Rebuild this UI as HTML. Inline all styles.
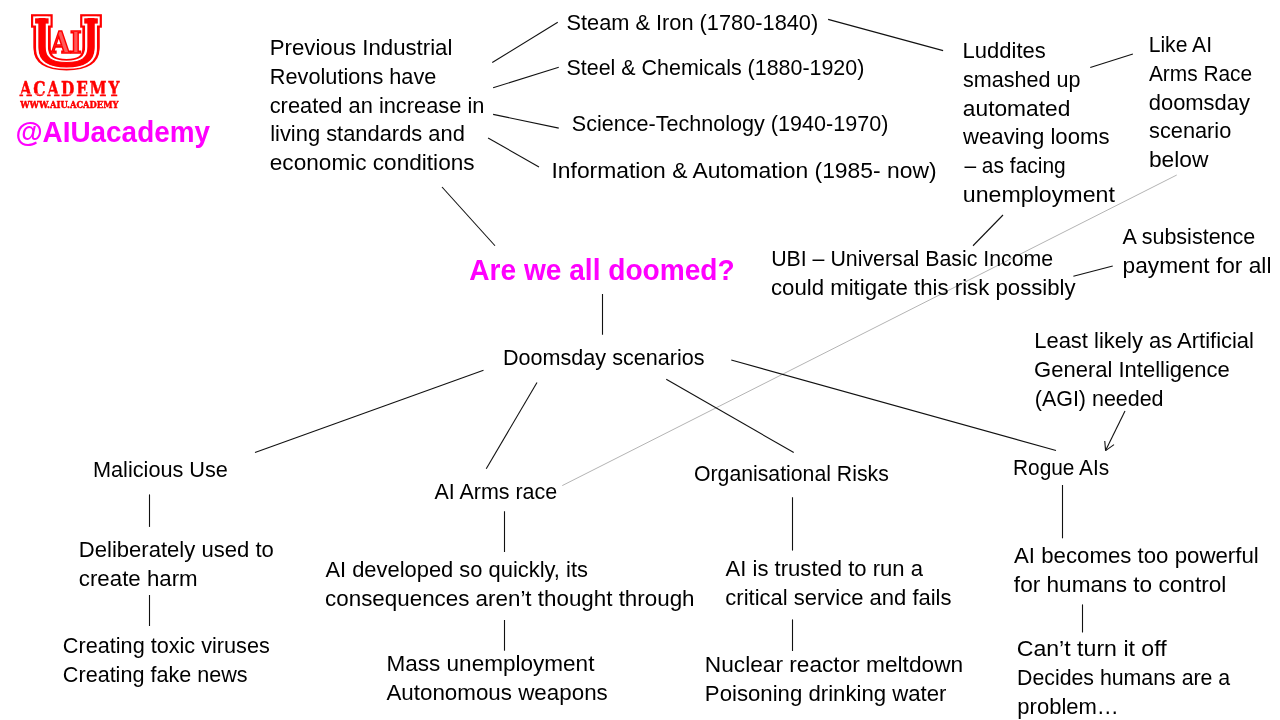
<!DOCTYPE html><html><head><meta charset="utf-8"><title>Are we all doomed?</title>
<style>html,body{margin:0;padding:0;background:#fff;}body{width:1280px;height:720px;overflow:hidden;}svg{display:block;}.t{font-family:"Liberation Sans", sans-serif;font-size:21.5px;fill:#000;}.b{font-family:"Liberation Sans", sans-serif;font-size:28.6px;font-weight:bold;fill:#ff00ff;}.l{stroke:#111;stroke-width:1.1;fill:none;}.g{stroke:#b4b4b4;stroke-width:1;fill:none;}</style></head><body>
<svg width="1280" height="720" viewBox="0 0 1280 720">
<rect width="1280" height="720" fill="#fff"/>
<line class="g" x1="1176.75" y1="175" x2="562.25" y2="485.6"/>
<line class="l" x1="492.25" y1="62.5" x2="557.75" y2="22.25"/>
<line class="l" x1="493.1" y1="87.75" x2="558.75" y2="67.25"/>
<line class="l" x1="493.1" y1="114.4" x2="558.75" y2="128.1"/>
<line class="l" x1="488.1" y1="138.1" x2="539" y2="166.9"/>
<line class="l" x1="828.1" y1="19.4" x2="943.1" y2="50.6"/>
<line class="l" x1="1090.25" y1="67.5" x2="1132.9" y2="54.1"/>
<line class="l" x1="442" y1="187" x2="495" y2="245.75"/>
<line class="l" x1="602.5" y1="294" x2="602.5" y2="334.75"/>
<line class="l" x1="973" y1="245.75" x2="1003" y2="215"/>
<line class="l" x1="1073.4" y1="276.25" x2="1112.75" y2="266"/>
<line class="l" x1="483.5" y1="370.25" x2="255" y2="452.5"/>
<line class="l" x1="537" y1="382.5" x2="486.25" y2="468.75"/>
<line class="l" x1="666.25" y1="379.25" x2="793.75" y2="452.5"/>
<line class="l" x1="731.25" y1="360" x2="1056" y2="450.5"/>
<line class="l" x1="149.5" y1="494.4" x2="149.5" y2="526.9"/>
<line class="l" x1="149.5" y1="595" x2="149.5" y2="626"/>
<line class="l" x1="504.5" y1="511.25" x2="504.5" y2="552"/>
<line class="l" x1="504.5" y1="620" x2="504.5" y2="650.7"/>
<line class="l" x1="792.5" y1="497.25" x2="792.5" y2="550.6"/>
<line class="l" x1="792.5" y1="619.4" x2="792.5" y2="651"/>
<line class="l" x1="1062.5" y1="485" x2="1062.5" y2="538.3"/>
<line class="l" x1="1082.5" y1="604.4" x2="1082.5" y2="632.5"/>
<line class="l" x1="1125" y1="411" x2="1105.6" y2="450.6"/>
<line class="l" x1="1105.6" y1="450.6" x2="1104.75" y2="441"/>
<line class="l" x1="1105.6" y1="450.6" x2="1114" y2="444.6"/>
<defs><filter id="aa" x="0" y="0" width="100%" height="100%" filterUnits="userSpaceOnUse" color-interpolation-filters="sRGB"><feOffset dx="0" dy="0"/></filter></defs>
<g filter="url(#aa)">
<text class="t" x="269.79" y="55" textLength="182.61" lengthAdjust="spacingAndGlyphs">Previous Industrial</text>
<text class="t" x="269.83" y="84" textLength="166.52" lengthAdjust="spacingAndGlyphs">Revolutions have</text>
<text class="t" x="269.71" y="113" textLength="214.71" lengthAdjust="spacingAndGlyphs">created an increase in</text>
<text class="t" x="270.2" y="141" textLength="194.68" lengthAdjust="spacingAndGlyphs">living standards and</text>
<text class="t" x="269.8" y="170" textLength="204.79" lengthAdjust="spacingAndGlyphs">economic conditions</text>
<text class="t" x="566.49" y="30" textLength="251.76" lengthAdjust="spacingAndGlyphs">Steam &amp; Iron (1780-1840)</text>
<text class="t" x="566.5" y="75" textLength="297.85" lengthAdjust="spacingAndGlyphs">Steel &amp; Chemicals (1880-1920)</text>
<text class="t" x="571.75" y="131" textLength="316.6" lengthAdjust="spacingAndGlyphs">Science-Technology (1940-1970)</text>
<text class="t" x="551.47" y="178" textLength="385.03" lengthAdjust="spacingAndGlyphs">Information &amp; Automation (1985- now)</text>
<text class="t" x="962.61" y="58" textLength="83.12" lengthAdjust="spacingAndGlyphs">Luddites</text>
<text class="t" x="963.02" y="87" textLength="117.36" lengthAdjust="spacingAndGlyphs">smashed up</text>
<text class="t" x="962.85" y="116" textLength="107.5" lengthAdjust="spacingAndGlyphs">automated</text>
<text class="t" x="963.02" y="144" textLength="146.46" lengthAdjust="spacingAndGlyphs">weaving looms</text>
<text class="t" x="964.4" y="173" textLength="101.32" lengthAdjust="spacingAndGlyphs">– as facing</text>
<text class="t" x="962.79" y="202" textLength="152.11" lengthAdjust="spacingAndGlyphs">unemployment</text>
<text class="t" x="1148.68" y="52" textLength="63.4" lengthAdjust="spacingAndGlyphs">Like AI</text>
<text class="t" x="1148.89" y="81" textLength="103.28" lengthAdjust="spacingAndGlyphs">Arms Race</text>
<text class="t" x="1148.75" y="110" textLength="101.21" lengthAdjust="spacingAndGlyphs">doomsday</text>
<text class="t" x="1149.01" y="138" textLength="82.31" lengthAdjust="spacingAndGlyphs">scenario</text>
<text class="t" x="1148.94" y="167" textLength="59.54" lengthAdjust="spacingAndGlyphs">below</text>
<text class="t" x="771.14" y="266" textLength="282.12" lengthAdjust="spacingAndGlyphs">UBI – Universal Basic Income</text>
<text class="t" x="770.97" y="295" textLength="304.68" lengthAdjust="spacingAndGlyphs">could mitigate this risk possibly</text>
<text class="t" x="1122.5" y="244" textLength="132.82" lengthAdjust="spacingAndGlyphs">A subsistence</text>
<text class="t" x="1122.56" y="273" textLength="148.9" lengthAdjust="spacingAndGlyphs">payment for all</text>
<text class="t" x="1034.21" y="348" textLength="219.78" lengthAdjust="spacingAndGlyphs">Least likely as Artificial</text>
<text class="t" x="1034.09" y="377" textLength="195.74" lengthAdjust="spacingAndGlyphs">General Intelligence</text>
<text class="t" x="1034.75" y="406" textLength="128.81" lengthAdjust="spacingAndGlyphs">(AGI) needed</text>
<text class="t" x="502.99" y="365" textLength="201.51" lengthAdjust="spacingAndGlyphs">Doomsday scenarios</text>
<text class="t" x="92.98" y="477" textLength="134.97" lengthAdjust="spacingAndGlyphs">Malicious Use</text>
<text class="t" x="434.4" y="499" textLength="122.78" lengthAdjust="spacingAndGlyphs">AI Arms race</text>
<text class="t" x="694.01" y="481" textLength="194.77" lengthAdjust="spacingAndGlyphs">Organisational Risks</text>
<text class="t" x="1013.0" y="475" textLength="96.18" lengthAdjust="spacingAndGlyphs">Rogue AIs</text>
<text class="t" x="78.8" y="557" textLength="194.99" lengthAdjust="spacingAndGlyphs">Deliberately used to</text>
<text class="t" x="78.81" y="586" textLength="118.88" lengthAdjust="spacingAndGlyphs">create harm</text>
<text class="t" x="62.87" y="653" textLength="206.91" lengthAdjust="spacingAndGlyphs">Creating toxic viruses</text>
<text class="t" x="62.87" y="682" textLength="184.71" lengthAdjust="spacingAndGlyphs">Creating fake news</text>
<text class="t" x="325.4" y="577" textLength="262.55" lengthAdjust="spacingAndGlyphs">AI developed so quickly, its</text>
<text class="t" x="325.12" y="606" textLength="369.42" lengthAdjust="spacingAndGlyphs">consequences aren’t thought through</text>
<text class="t" x="386.47" y="671" textLength="207.95" lengthAdjust="spacingAndGlyphs">Mass unemployment</text>
<text class="t" x="386.42" y="700" textLength="221.36" lengthAdjust="spacingAndGlyphs">Autonomous weapons</text>
<text class="t" x="725.6" y="576" textLength="197.37" lengthAdjust="spacingAndGlyphs">AI is trusted to run a</text>
<text class="t" x="725.33" y="605" textLength="226.18" lengthAdjust="spacingAndGlyphs">critical service and fails</text>
<text class="t" x="704.86" y="672" textLength="258.25" lengthAdjust="spacingAndGlyphs">Nuclear reactor meltdown</text>
<text class="t" x="704.89" y="701" textLength="241.62" lengthAdjust="spacingAndGlyphs">Poisoning drinking water</text>
<text class="t" x="1014.0" y="563" textLength="244.72" lengthAdjust="spacingAndGlyphs">AI becomes too powerful</text>
<text class="t" x="1013.86" y="592" textLength="212.47" lengthAdjust="spacingAndGlyphs">for humans to control</text>
<text class="t" x="1016.69" y="656" textLength="149.99" lengthAdjust="spacingAndGlyphs">Can’t turn it off</text>
<text class="t" x="1017.05" y="685" textLength="213.15" lengthAdjust="spacingAndGlyphs">Decides humans are a</text>
<text class="t" x="1017.37" y="714" textLength="101.51" lengthAdjust="spacingAndGlyphs">problem…</text>
<text class="b" x="15.41" y="142" textLength="194.56" lengthAdjust="spacingAndGlyphs">@AIUacademy</text>
<text class="b" x="469.26" y="280" textLength="265.45" lengthAdjust="spacingAndGlyphs">Are we all doomed?</text>
<g id="logo">
<g font-family="&quot;DejaVu Sans Light&quot;, &quot;DejaVu Sans&quot;, sans-serif" font-weight="200" font-size="62.16" stroke-linejoin="miter" stroke-miterlimit="10">
<g stroke="#ff0000" stroke-width="9.60" fill="#ff0000"><text transform="translate(27.50 66.49) scale(1.717 1)" vector-effect="non-scaling-stroke" x="0" y="0">U</text><text transform="translate(27.50 64.32) scale(1.717 1)" vector-effect="non-scaling-stroke" x="0" y="0">U</text><rect x="35.80" y="19.00" width="12.10" height="3.90"/><rect x="84.95" y="19.00" width="12.15" height="3.90"/></g>
<g stroke="#ffffff" stroke-width="5.20" fill="#ffffff"><text transform="translate(27.50 66.49) scale(1.717 1)" vector-effect="non-scaling-stroke" x="0" y="0">U</text><text transform="translate(27.50 64.32) scale(1.717 1)" vector-effect="non-scaling-stroke" x="0" y="0">U</text><rect x="35.80" y="19.00" width="12.10" height="3.90"/><rect x="84.95" y="19.00" width="12.15" height="3.90"/></g>
<g stroke="#ff0000" stroke-width="1.40" fill="#ff0000"><text transform="translate(27.50 66.49) scale(1.717 1)" vector-effect="non-scaling-stroke" x="0" y="0">U</text><text transform="translate(27.50 64.32) scale(1.717 1)" vector-effect="non-scaling-stroke" x="0" y="0">U</text><rect x="35.80" y="19.00" width="12.10" height="3.90"/><rect x="84.95" y="19.00" width="12.15" height="3.90"/></g>
</g>
<text x="50.7" y="52.9" font-family="&quot;DejaVu Serif&quot;, serif" font-weight="bold" font-size="29.2" fill="#ff5a5a" stroke="#ff0000" stroke-width="1.7" textLength="31" lengthAdjust="spacingAndGlyphs">AI</text>
<text transform="translate(19.7 96) scale(0.74 1)" x="0" y="0" font-family="&quot;DejaVu Serif&quot;, serif" font-weight="bold" font-size="20.8" fill="#ff0000" stroke="#ff0000" stroke-width="0.5" textLength="134.7" lengthAdjust="spacing">ACADEMY</text>
<rect x="19" y="93.6" width="101" height="0.8" fill="#ffffff" opacity="0.8"/>
<text x="20.2" y="108.1" font-family="&quot;DejaVu Serif&quot;, serif" font-weight="bold" font-size="9.6" fill="#ff0000" stroke="#ff0000" stroke-width="0.5" textLength="98.3" lengthAdjust="spacingAndGlyphs">WWW.AIU.ACADEMY</text>
</g>
</g>
</svg></body></html>
